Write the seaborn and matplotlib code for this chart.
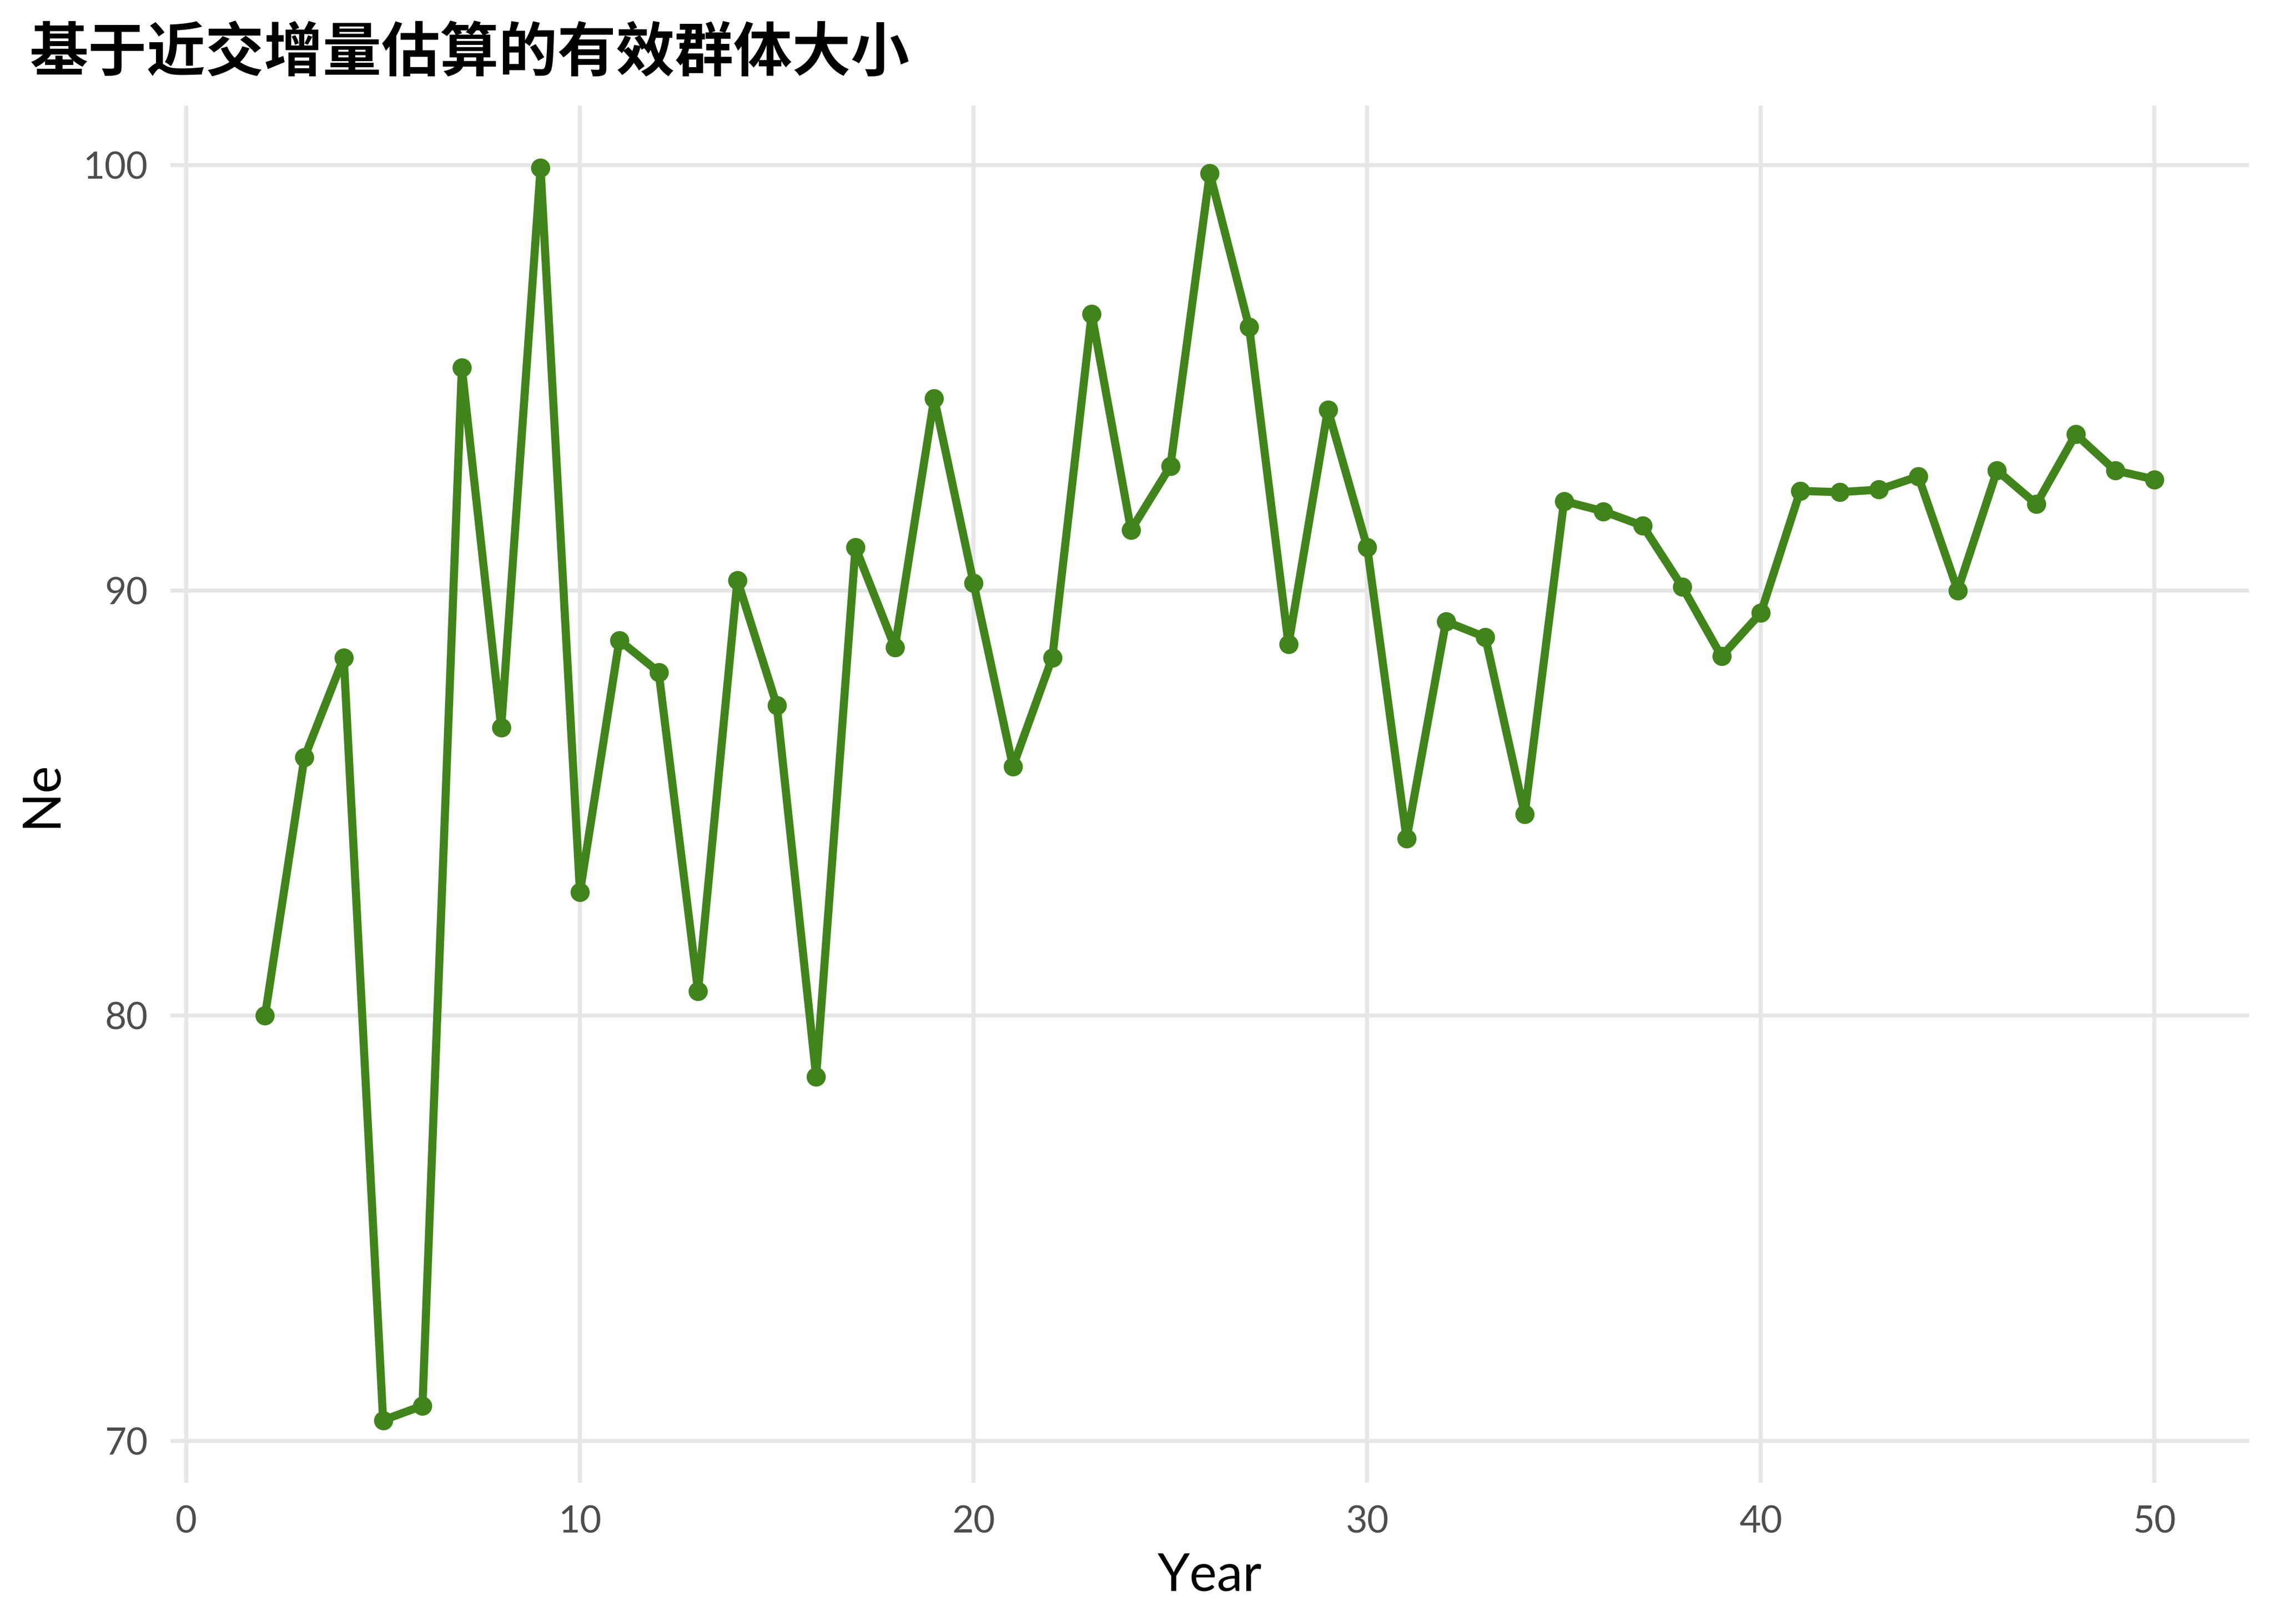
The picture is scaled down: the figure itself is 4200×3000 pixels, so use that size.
import pandas as pd
import matplotlib.pyplot as plt
import seaborn as sns

# 数据
years = list(range(2, 51))
ne_values = [80.0, 86.07, 88.42, 70.49, 70.83, 95.24, 86.78, 99.93, 82.9, 88.83,
             88.08, 80.58, 90.24, 87.30, 78.57, 91.01, 88.66, 94.52, 90.17, 85.86,
             88.42, 96.50, 91.42, 92.92, 99.81, 96.19, 88.73, 94.25, 91.01, 84.16,
             89.27, 88.90, 84.74, 92.10, 91.86, 91.52, 90.09, 88.45, 89.47, 92.34,
             92.31, 92.37, 92.68, 90.0, 92.82, 92.03, 93.67, 92.82, 92.61]
x_ticks = [0, 10, 20, 30, 40, 50]
y_ticks = [70, 80, 90, 100]

df = pd.DataFrame({"Year": years, "Ne": ne_values})

sns.set_theme(style="whitegrid")
plt.rcParams['font.family'] = ['Lato', 'Noto Sans CJK SC', 'DejaVu Sans']
plt.rcParams['axes.unicode_minus'] = False

fig = plt.figure(figsize=(14, 10), dpi=300)
ax = fig.add_axes([0.075, 0.087, 0.914, 0.848])

sns.lineplot(data=df, x="Year", y="Ne", color="#41841b", linewidth=3.6,
             marker="o", markersize=8.5, markeredgewidth=0, ax=ax)

ax.set_xlim(-0.4, 52.4)
ax.set_ylim(69.02, 101.4)
ax.set_xticks(x_ticks)
ax.set_yticks(y_ticks)

for s in ax.spines.values():
    s.set_visible(False)
ax.grid(True, color="#e6e6e6", linewidth=1.8)
ax.tick_params(axis="both", length=0, labelsize=16.5, labelcolor="#4d4d4d")
ax.tick_params(axis="x", pad=10)
ax.tick_params(axis="y", pad=10)

ax.set_xlabel("Year", fontsize=23, color="black", labelpad=6)
ax.set_ylabel("Ne", fontsize=23, color="black", labelpad=8)

fig.text(0.013, 0.967, "基于近交增量估算的有效群体大小", fontsize=26,
         family=['Noto Sans CJK SC', 'DejaVu Sans'], fontweight="bold",
         ha="left", va="center", color="black")

fig.savefig("out.png", dpi=300)
